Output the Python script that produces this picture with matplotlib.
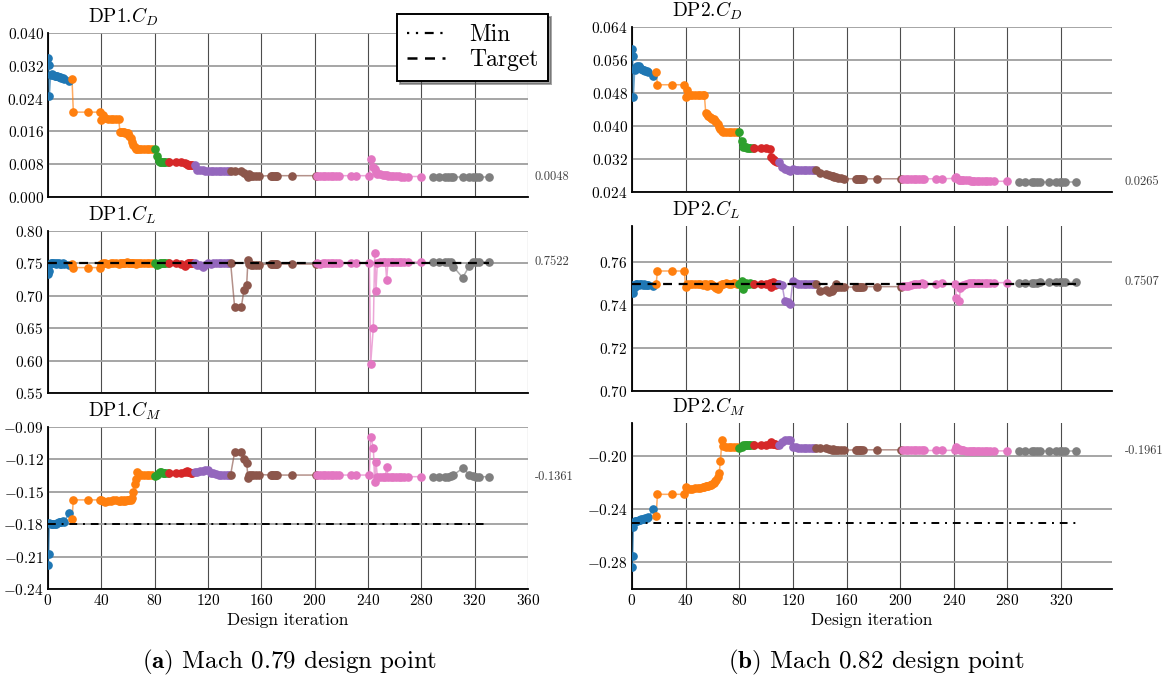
import matplotlib
matplotlib.use('Agg')
import matplotlib.pyplot as plt
from matplotlib.lines import Line2D
from matplotlib.ticker import FuncFormatter

plt.rcParams['font.family'] = 'serif'
plt.rcParams['font.serif'] = ['cmr10']
plt.rcParams['mathtext.fontset'] = 'cm'
plt.rcParams['axes.unicode_minus'] = False

# design iterations of each optimisation restart (shared by both design points)
it_blue = [0, 0.5, 1, 2, 3, 4, 5, 6, 7, 8, 9, 10, 11, 12, 16]
it_orange = [18, 19, 30, 39, 40, 41, 43, 45, 47, 49, 51, 53, 54, 55, 56, 57, 58, 59, 60, 61,
             62, 63, 64, 65, 66, 67, 68, 70, 72, 74, 76, 78]
it_green = [80, 82, 83, 84, 85, 86, 87, 88, 90]
it_red = [91, 96, 100, 103, 104, 105, 106, 107, 108]
it_purple = [110, 112, 114, 116, 118, 120, 122, 124, 126, 128, 130, 132, 134, 136]
it_brown = [137, 140, 145, 147, 149, 150, 151, 152, 154, 156, 158, 167, 168, 169, 170, 171, 172, 183, 201]
it_pink = [202, 204, 206, 208, 210, 212, 214, 216, 218, 227, 231, 241, 242, 244, 245, 246, 247,
           249, 251, 253, 254, 255, 257, 259, 261, 263, 265, 267, 270, 280]
it_gray = [289, 293, 298, 300, 302, 304, 311, 316, 319, 321, 323, 331]
iters = [it_blue, it_orange, it_green, it_red, it_purple, it_brown, it_pink, it_gray]

# ---- DP1 (Mach 0.79)
cd1 = [
    [0.0340, 0.0322, 0.0247, 0.0298, 0.0299, 0.0298, 0.0296, 0.0295, 0.0294, 0.0293, 0.0292, 0.0291, 0.0290, 0.0289, 0.0283],
    [0.0289, 0.0207, 0.0207, 0.0207, 0.0187, 0.0199, 0.0192, 0.0190, 0.0190, 0.0190, 0.0190, 0.0190, 0.0159, 0.0159, 0.0158, 0.0158,
     0.0157, 0.0156, 0.0155, 0.0150, 0.0143, 0.0135, 0.0128, 0.0122, 0.0118, 0.0116, 0.0116, 0.0116, 0.0116, 0.0116, 0.0116, 0.0116],
    [0.0117, 0.0100, 0.0087, 0.0086, 0.0086, 0.0085, 0.0085, 0.0085, 0.0085],
    [0.0086, 0.0086, 0.0085, 0.0082, 0.0080, 0.0079, 0.0078, 0.0079, 0.0078],
    [0.0079, 0.0066, 0.0065, 0.0065, 0.0064, 0.0064, 0.0064, 0.0064, 0.0063, 0.0063, 0.0063, 0.0063, 0.0063, 0.0063],
    [0.0063, 0.0063, 0.0063, 0.0058, 0.0054, 0.0050, 0.0055, 0.0052, 0.0051, 0.0051, 0.0051, 0.0052, 0.0052, 0.0052, 0.0052,
     0.0052, 0.0052, 0.0052, 0.0052],
    [0.0052, 0.0052, 0.0052, 0.0052, 0.0052, 0.0052, 0.0052, 0.0052, 0.0052, 0.0052, 0.0052, 0.0052, 0.0093, 0.0074, 0.0068,
     0.0060, 0.0057, 0.0055, 0.0054, 0.0053, 0.0053, 0.0052, 0.0052, 0.0051, 0.0051, 0.0051, 0.0050, 0.0050, 0.0050, 0.0050],
    [0.0048, 0.0048, 0.0048, 0.0048, 0.0048, 0.0048, 0.0048, 0.0048, 0.0048, 0.0048, 0.0048, 0.0048],
]
cl1 = [
    [0.7335, 0.7380, 0.7480, 0.7505, 0.7500, 0.7510, 0.7500, 0.7495, 0.7505, 0.7500, 0.7490, 0.7495, 0.7500, 0.7490, 0.7470],
    [0.7490, 0.7435, 0.7435, 0.7435, 0.7485, 0.7500, 0.7500, 0.7490, 0.7500, 0.7510, 0.7500, 0.7490, 0.7500, 0.7510, 0.7500, 0.7510,
     0.7510, 0.7520, 0.7510, 0.7500, 0.7510, 0.7500, 0.7510, 0.7500, 0.7490, 0.7500, 0.7500, 0.7510, 0.7500, 0.7510, 0.7500, 0.7500],
    [0.7500, 0.7470, 0.7490, 0.7500, 0.7510, 0.7500, 0.7510, 0.7500, 0.7500],
    [0.7500, 0.7500, 0.7490, 0.7460, 0.7490, 0.7500, 0.7510, 0.7500, 0.7500],
    [0.7500, 0.7480, 0.7470, 0.7450, 0.7480, 0.7500, 0.7490, 0.7500, 0.7500, 0.7510, 0.7500, 0.7500, 0.7500, 0.7500],
    [0.7500, 0.6820, 0.6830, 0.7090, 0.7170, 0.7560, 0.7490, 0.7480, 0.7480, 0.7480, 0.7480, 0.7490, 0.7490, 0.7490, 0.7490,
     0.7490, 0.7490, 0.7490, 0.7490],
    [0.7500, 0.7490, 0.7500, 0.7500, 0.7510, 0.7500, 0.7500, 0.7510, 0.7510, 0.7510, 0.7510, 0.7510, 0.5950, 0.6510, 0.7660,
     0.7080, 0.7510, 0.7520, 0.7520, 0.7520, 0.7250, 0.7520, 0.7520, 0.7520, 0.7520, 0.7520, 0.7520, 0.7520, 0.7520, 0.7520],
    [0.7520, 0.7520, 0.7520, 0.7520, 0.7515, 0.7450, 0.7280, 0.7460, 0.7515, 0.7520, 0.7520, 0.7522],
]
cm1 = [
    [-0.2180, -0.2075, -0.1790, -0.1795, -0.1800, -0.1800, -0.1795, -0.1800, -0.1785, -0.1780, -0.1780, -0.1775, -0.1770,
     -0.1775, -0.1700],
    [-0.1750, -0.1575, -0.1575, -0.1575, -0.1575, -0.1585, -0.1590, -0.1585, -0.1585, -0.1580, -0.1580, -0.1585, -0.1585,
     -0.1580, -0.1585, -0.1580, -0.1585, -0.1580, -0.1578, -0.1575, -0.1575, -0.1555, -0.1500, -0.1430, -0.1380, -0.1320,
     -0.1335, -0.1345, -0.1345, -0.1345, -0.1345, -0.1345],
    [-0.1350, -0.1340, -0.1330, -0.1320, -0.1320, -0.1325, -0.1325, -0.1325, -0.1330],
    [-0.1330, -0.1330, -0.1325, -0.1320, -0.1310, -0.1315, -0.1320, -0.1325, -0.1330],
    [-0.1320, -0.1315, -0.1310, -0.1305, -0.1300, -0.1295, -0.1325, -0.1330, -0.1335, -0.1340, -0.1340, -0.1340, -0.1340, -0.1345],
    [-0.1340, -0.1130, -0.1132, -0.1200, -0.1230, -0.1370, -0.1345, -0.1340, -0.1340, -0.1340, -0.1340, -0.1345, -0.1345,
     -0.1345, -0.1345, -0.1345, -0.1345, -0.1345, -0.1345],
    [-0.1345, -0.1345, -0.1345, -0.1345, -0.1345, -0.1345, -0.1345, -0.1345, -0.1345, -0.1345, -0.1345, -0.1345, -0.0990,
     -0.1090, -0.1410, -0.1220, -0.1360, -0.1360, -0.1360, -0.1360, -0.1270, -0.1360, -0.1360, -0.1360, -0.1360, -0.1360,
     -0.1360, -0.1360, -0.1360, -0.1360],
    [-0.1360, -0.1360, -0.1362, -0.1360, -0.1355, -0.1345, -0.1282, -0.1340, -0.1358, -0.1360, -0.1360, -0.1361],
]

# ---- DP2 (Mach 0.82)
cd2 = [
    [0.0587, 0.0570, 0.0470, 0.0535, 0.0543, 0.0545, 0.0545, 0.0540, 0.0537, 0.0535, 0.0535, 0.0533, 0.0533, 0.0530, 0.0522],
    [0.0530, 0.0500, 0.0500, 0.0500, 0.0470, 0.0488, 0.0474, 0.0474, 0.0474, 0.0474, 0.0474, 0.0474, 0.0474, 0.0432, 0.0428,
     0.0425, 0.0422, 0.0420, 0.0418, 0.0416, 0.0413, 0.0410, 0.0405, 0.0398, 0.0392, 0.0388, 0.0386, 0.0385, 0.0385, 0.0385,
     0.0385, 0.0385],
    [0.0385, 0.0363, 0.0350, 0.0348, 0.0348, 0.0347, 0.0347, 0.0347, 0.0347],
    [0.0347, 0.0347, 0.0346, 0.0345, 0.0325, 0.0320, 0.0318, 0.0315, 0.0313],
    [0.0313, 0.0300, 0.0296, 0.0294, 0.0290, 0.0295, 0.0294, 0.0294, 0.0294, 0.0294, 0.0293, 0.0293, 0.0293, 0.0293],
    [0.0293, 0.0286, 0.0284, 0.0282, 0.0280, 0.0279, 0.0277, 0.0276, 0.0274, 0.0273, 0.0272, 0.0272, 0.0272, 0.0272, 0.0272,
     0.0272, 0.0272, 0.0272, 0.0272],
    [0.0272, 0.0272, 0.0272, 0.0272, 0.0272, 0.0272, 0.0272, 0.0272, 0.0272, 0.0272, 0.0272, 0.0273, 0.0276, 0.0270, 0.0268,
     0.0270, 0.0269, 0.0268, 0.0268, 0.0267, 0.0267, 0.0267, 0.0267, 0.0267, 0.0267, 0.0266, 0.0266, 0.0266, 0.0266, 0.0266],
    [0.0265, 0.0265, 0.0265, 0.0265, 0.0265, 0.0265, 0.0265, 0.0265, 0.0265, 0.0265, 0.0265, 0.0265],
]
cl2 = [
    [0.7495, 0.7475, 0.7455, 0.7485, 0.7500, 0.7500, 0.7495, 0.7500, 0.7500, 0.7495, 0.7500, 0.7495, 0.7495, 0.7495, 0.7490],
    [0.7500, 0.7560, 0.7560, 0.7560, 0.7485, 0.7500, 0.7500, 0.7500, 0.7500, 0.7500, 0.7500, 0.7495, 0.7500, 0.7500, 0.7490,
     0.7495, 0.7500, 0.7500, 0.7495, 0.7490, 0.7485, 0.7480, 0.7475, 0.7485, 0.7495, 0.7500, 0.7500, 0.7505, 0.7500, 0.7500,
     0.7505, 0.7500],
    [0.7500, 0.7515, 0.7475, 0.7495, 0.7505, 0.7500, 0.7500, 0.7505, 0.7500],
    [0.7500, 0.7500, 0.7500, 0.7505, 0.7485, 0.7510, 0.7500, 0.7495, 0.7500],
    [0.7500, 0.7495, 0.7420, 0.7413, 0.7405, 0.7515, 0.7505, 0.7500, 0.7500, 0.7500, 0.7500, 0.7500, 0.7500, 0.7500],
    [0.7500, 0.7465, 0.7470, 0.7462, 0.7468, 0.7475, 0.7480, 0.7500, 0.7485, 0.7485, 0.7485, 0.7485, 0.7487, 0.7485, 0.7487,
     0.7487, 0.7487, 0.7487, 0.7487],
    [0.7488, 0.7490, 0.7492, 0.7495, 0.7498, 0.7500, 0.7500, 0.7502, 0.7500, 0.7500, 0.7502, 0.7500, 0.7432, 0.7418, 0.7482,
     0.7490, 0.7495, 0.7500, 0.7502, 0.7503, 0.7503, 0.7504, 0.7504, 0.7505, 0.7505, 0.7505, 0.7505, 0.7505, 0.7505, 0.7506],
    [0.7505, 0.7505, 0.7506, 0.7506, 0.7506, 0.7507, 0.7507, 0.7507, 0.7507, 0.7507, 0.7507, 0.7507],
]
cm2 = [
    [-0.2835, -0.2750, -0.2535, -0.2490, -0.2485, -0.2485, -0.2480, -0.2480, -0.2475, -0.2475, -0.2470, -0.2468, -0.2465,
     -0.2460, -0.2400],
    [-0.2450, -0.2287, -0.2287, -0.2287, -0.2232, -0.2250, -0.2245, -0.2245, -0.2242, -0.2242, -0.2240, -0.2235, -0.2230,
     -0.2225, -0.2222, -0.2222, -0.2220, -0.2215, -0.2210, -0.2200, -0.2190, -0.2180, -0.2160, -0.2130, -0.2035, -0.1880,
     -0.1925, -0.1928, -0.1928, -0.1928, -0.1928, -0.1928],
    [-0.1935, -0.1930, -0.1915, -0.1912, -0.1915, -0.1915, -0.1917, -0.1917, -0.1915],
    [-0.1912, -0.1912, -0.1912, -0.1905, -0.1895, -0.1905, -0.1910, -0.1910, -0.1912],
    [-0.1912, -0.1895, -0.1878, -0.1875, -0.1875, -0.1930, -0.1932, -0.1935, -0.1935, -0.1935, -0.1937, -0.1937, -0.1940, -0.1940],
    [-0.1940, -0.1935, -0.1935, -0.1945, -0.1950, -0.1945, -0.1950, -0.1955, -0.1955, -0.1955, -0.1955, -0.1952, -0.1952,
     -0.1952, -0.1952, -0.1952, -0.1952, -0.1952, -0.1952],
    [-0.1952, -0.1955, -0.1955, -0.1955, -0.1955, -0.1957, -0.1957, -0.1957, -0.1957, -0.1957, -0.1957, -0.1955, -0.1932,
     -0.1945, -0.1950, -0.1955, -0.1957, -0.1958, -0.1958, -0.1960, -0.1960, -0.1960, -0.1960, -0.1960, -0.1960, -0.1960,
     -0.1960, -0.1960, -0.1960, -0.1960],
    [-0.1961, -0.1961, -0.1961, -0.1961, -0.1961, -0.1961, -0.1961, -0.1961, -0.1961, -0.1961, -0.1961, -0.1961],
]

final_labels = ['0.0048', '0.7522', '-0.1361', '0.0265', '0.7507', '-0.1961']
cl_target = 0.75
cm_min = [-0.18, -0.25]
ref_end = 331

colors = ['#1f77b4', '#ff7f0e', '#2ca02c', '#d62728', '#9467bd', '#8c564b', '#e377c2', '#7f7f7f']


def fmt(dec):
    return FuncFormatter(lambda v, p: '$%.*f$' % (dec, v))


def panel(ax, ys, title, yticks, ylim, dec, label, xmax, xticks, lab_off):
    for x, y, c in zip(iters, ys, colors):
        ax.plot(x, y, color=c, lw=1.1, alpha=0.65, zorder=3)
        ax.plot(x, y, 'o', color=c, ms=5.2, mec=c, zorder=4)
    ax.set_xlim(0, xmax)
    ax.set_ylim(*ylim)
    ax.set_yticks(yticks)
    ax.yaxis.set_major_formatter(fmt(dec))
    ax.set_xticks(xticks)
    ax.xaxis.set_major_formatter(FuncFormatter(lambda v, p: '$%d$' % v))
    ax.grid(axis='x', color='0.3', lw=0.8)
    ax.grid(axis='y', color='0.62', lw=1.3)
    ax.set_axisbelow(True)
    for s in ['top', 'right']:
        ax.spines[s].set_visible(False)
    for s in ['left', 'bottom']:
        ax.spines[s].set_linewidth(1.3)
    ax.tick_params(length=0, pad=3, labelsize=11)
    ax.text(0.083, 1.03, title, transform=ax.transAxes, fontsize=14, va='bottom', ha='left')
    ax.annotate(label, xy=(1, float(label)), xycoords=('axes fraction', 'data'),
                xytext=(lab_off, 0), textcoords='offset points', va='center', ha='left',
                fontsize=9, color='0.25')


fig = plt.figure(figsize=(11.64, 6.79), dpi=100)
W, H = 1164, 679
boxes_l = [(48, 33, 197), (48, 231, 393), (48, 427, 589)]
boxes_r = [(632, 27, 192), (632, 226, 391), (632, 423, 589)]

axes = []
for (x0, y0, y1) in boxes_l + boxes_r:
    axes.append(fig.add_axes([x0 / W, 1 - y1 / H, 480 / W, (y1 - y0) / H]))

xt_l = list(range(0, 361, 40))
xt_r = list(range(0, 321, 40))
panel(axes[0], cd1, r'DP1.$C_D$', [0, 0.008, 0.016, 0.024, 0.032, 0.040], (0, 0.040), 3, final_labels[0], 360, xt_l, 5)
panel(axes[1], cl1, r'DP1.$C_L$', [0.55, 0.60, 0.65, 0.70, 0.75, 0.80], (0.55, 0.80), 2, final_labels[1], 360, xt_l, 5)
panel(axes[2], cm1, r'DP1.$C_M$', [-0.24, -0.21, -0.18, -0.15, -0.12, -0.09], (-0.24, -0.09), 2, final_labels[2], 360, xt_l, 5)
panel(axes[3], cd2, r'DP2.$C_D$', [0.024, 0.032, 0.040, 0.048, 0.056, 0.064], (0.024, 0.064), 3, final_labels[3], 358, xt_r, 9)
panel(axes[4], cl2, r'DP2.$C_L$', [0.70, 0.72, 0.74, 0.76], (0.70, 0.777), 2, final_labels[4], 358, xt_r, 9)
panel(axes[5], cm2, r'DP2.$C_M$', [-0.28, -0.24, -0.20], (-0.300, -0.175), 2, final_labels[5], 358, xt_r, 9)

# target and minimum constraint lines
for ax in [axes[1], axes[4]]:
    ax.plot([0, ref_end], [cl_target, cl_target], color='k', lw=1.6, ls=(0, (4, 3)), zorder=5)
for ax, m in zip([axes[2], axes[5]], cm_min):
    ax.plot([0, ref_end], [m, m], color='k', lw=1.4, ls=(0, (4, 3, 1, 3)), zorder=5)

for ax in [axes[0], axes[1], axes[3], axes[4]]:
    ax.tick_params(labelbottom=False)

captions = [r'$\mathbf{(a)}$ Mach 0.79 design point', r'$\mathbf{(b)}$ Mach 0.82 design point']
for ax, cap, cx in zip([axes[2], axes[5]], captions, [290, 876]):
    ax.set_xlabel('Design iteration', fontsize=12.5, labelpad=3)
    fig.text(cx / W, 1 - 662 / H, cap, ha='center', va='center', fontsize=18)

handles = [Line2D([], [], color='k', lw=1.6, ls=(0, (1, 3, 1, 3, 4, 3))),
           Line2D([], [], color='k', lw=1.8, ls=(0, (4, 3)))]
leg = fig.legend(handles, ['Min', 'Target'], loc='upper right', bbox_to_anchor=(548 / W, 1 - 14 / H),
                 fontsize=17, frameon=True, fancybox=False, shadow=True, handlelength=1.6,
                 handletextpad=1.0, borderpad=0.42, labelspacing=0.12, borderaxespad=0)
leg.get_frame().set_edgecolor('k')
leg.get_frame().set_linewidth(1.4)

fig.savefig('out.png', dpi=100)
